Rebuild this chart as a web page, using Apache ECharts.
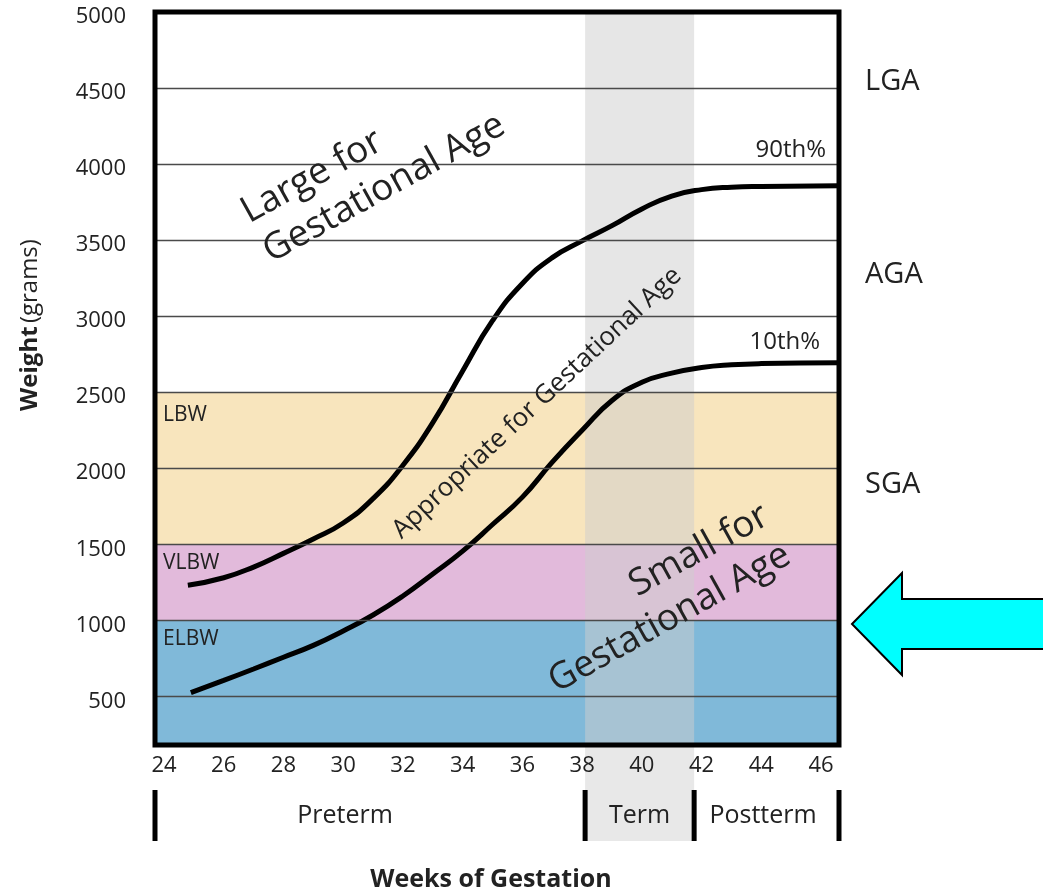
<!DOCTYPE html>
<html><head><meta charset="utf-8">
<script src="https://cdn.jsdelivr.net/npm/echarts@6/dist/echarts.min.js"></script>
<style>html,body{margin:0;padding:0;background:#fff}#c{width:1043px;height:896px}</style>
</head><body><div id="c"></div>
<script>
// ---- data ----
const weekTicks = [24,26,28,30,32,34,36,38,40,42,44,46];
const weightTicks = [500,1000,1500,2000,2500,3000,3500,4000,4500,5000];
const gridWeights = [500,1000,1500,2000,2500,3000,3500,4000,4500];
const weekRange = [23.7, 46.6];
const weightRange = [180, 5000];
const termWeeks = [38.1, 41.75];
const bandNames = ['ELBW','VLBW','LBW'];
const bandFrom = [180, 1000, 1500];
const bandTo = [1000, 1500, 2500];
const p90 = [[24.8,1230],[26,1280],[27,1350],[28,1440],[29,1535],[30,1640],[31,1800],[32,2020],[33,2300],[34,2640],[35,2970],[36,3215],[37,3385],[38,3495],[39,3595],[40,3705],[41,3790],[42,3832],[43,3848],[44,3853],[46.6,3858]];
const p10 = [[24.9,525],[26,605],[27,680],[28,757],[29,835],[30,930],[31,1035],[32,1160],[33,1305],[34,1455],[35,1630],[36,1810],[37,2040],[38,2250],[39,2445],[40,2565],[41,2625],[42,2662],[43,2680],[44,2688],[46.6,2693]];
const periodNames = ['Preterm','Term','Postterm'];
const sizeNames = ['LGA','AGA','SGA'];

// ---- styles ----
const FONT = 'Open Sans';
const bandColors = ['#80b9d9','#e2badb','#f8e5bd'];
const TXT = '#222';

const chart = echarts.init(document.getElementById('c'));
chart.setOption({
  animation: false,
  grid: {left:155, right:204, top:12, bottom:151, containLabel:false},
  xAxis: {type:'value', min:weekRange[0], max:weekRange[1],
    axisLine:{show:false}, axisTick:{show:false}, splitLine:{show:false},
    axisLabel:{customValues:weekTicks, formatter:v=>String(v), fontFamily:FONT, fontSize:22, color:TXT, margin:10}},
  yAxis: {type:'value', min:weightRange[0], max:weightRange[1],
    axisLine:{show:false}, axisTick:{show:false}, splitLine:{show:false},
    axisLabel:{customValues:weightTicks, formatter:v=>String(v), fontFamily:FONT, fontSize:22, color:TXT, margin:29,
      verticalAlign:'top', lineHeight:10}},
  series: [
    {type:'line', data:[], z:1, silent:true,
      markArea:{silent:true, data: bandNames.map((n,i)=>[{yAxis:bandFrom[i], itemStyle:{color:bandColors[i]}},{yAxis:bandTo[i]}])}},
    {type:'line', data:[], z:2, silent:true,
      markArea:{silent:true, itemStyle:{color:'rgba(205,205,205,0.5)'}, data:[[{xAxis:termWeeks[0]},{xAxis:termWeeks[1]}]]}},
    {type:'line', data:[], z:3, silent:true,
      markLine:{silent:true, symbol:'none', label:{show:false},
        lineStyle:{color:'#4a4a4a', width:1.3, type:'solid'},
        data: gridWeights.map(w=>({yAxis:w}))}},
    {type:'line', name:'90th%', data:p90, smooth:0.5, showSymbol:false, z:4,
      lineStyle:{color:'#000', width:5}},
    {type:'line', name:'10th%', data:p10, smooth:0.5, showSymbol:false, z:4,
      lineStyle:{color:'#000', width:5}}
  ]
});

const px = (x,y)=>chart.convertToPixel({gridIndex:0},[x,y]);
const tl = px(weekRange[0], weightRange[1]);
const br = px(weekRange[1], weightRange[0]);
const tA = px(termWeeks[0], weightRange[0]);
const tB = px(termWeeks[1], weightRange[0]);
const rowTop = br[1] + 45, rowBot = br[1] + 96;

const txt = (t, x, y, o={}) => ({type:'text', x, y, z:50, rotation:o.rot||0,
  style:{text:t, fontFamily:FONT, fontSize:o.size||22, fill:TXT, fontWeight:o.bold?'bold':'normal',
    align:o.align||'left', verticalAlign:'middle', lineHeight:o.lh}});

const g = [];
// term band below plot
g.push({type:'rect', z:0, shape:{x:tA[0], y:br[1], width:tB[0]-tA[0], height:rowBot-br[1]}, style:{fill:'#e8e8e8'}});
// frame
g.push({type:'rect', z:60, shape:{x:tl[0], y:tl[1], width:br[0]-tl[0], height:br[1]-tl[1]}, style:{fill:null, stroke:'#000', lineWidth:5}});
// period bars
[weekRange[0], termWeeks[0], termWeeks[1], weekRange[1]].forEach(w=>{
  const p = px(w, weightRange[0]);
  g.push({type:'rect', z:60, shape:{x:p[0]-2.5, y:rowTop, width:5, height:rowBot-rowTop}, style:{fill:'#000'}});
});
// period labels
g.push(txt(periodNames[0], 345, 816, {size:25, align:'center'}));
g.push(txt(periodNames[1], (tA[0]+tB[0])/2, 816, {size:25, align:'center'}));
g.push(txt(periodNames[2], 763, 816, {size:25, align:'center'}));
// axis titles
g.push(txt('Weeks of Gestation', 491, 880, {size:25, bold:true, align:'center'}));
g.push({type:'text', x:30, y:325, rotation:Math.PI/2, z:50,
  style:{text:'{b|Weight} {n|(grams)}', align:'center', verticalAlign:'middle',
    rich:{b:{fontFamily:FONT, fontSize:24, fontWeight:'bold', fill:TXT}, n:{fontFamily:FONT, fontSize:24, fill:TXT}}}});
// band labels
g.push(txt(bandNames[2], 163, 415, {size:21}));
g.push(txt(bandNames[1], 163, 563, {size:21}));
g.push(txt(bandNames[0], 163, 639, {size:21}));
// size labels at right
g.push(txt(sizeNames[0], 865, 82, {size:29}));
g.push(txt(sizeNames[1], 865, 275, {size:29}));
g.push(txt(sizeNames[2], 865, 485, {size:29}));
// percentile labels
g.push(txt('90th%', 826, 150, {size:24, align:'right'}));
g.push(txt('10th%', 820, 342, {size:24, align:'right'}));
// region annotations
const r29 = 29*Math.PI/180;
g.push(txt('Large for\nGestational Age', 255, 234, {size:37, rot:r29, lh:45}));
g.push(txt('Small for\nGestational Age', 777, 533, {size:37, rot:r29, lh:45, align:'right'}));
g.push(txt('Appropriate for Gestational Age', 537, 403, {size:26, rot:43*Math.PI/180, align:'center'}));
// arrow
g.push({type:'polygon', z:60, shape:{points:[[852,624],[902,573],[902,599],[1050,599],[1050,649],[902,649],[902,675]]},
  style:{fill:'#00ffff', stroke:'#000', lineWidth:2}});
chart.setOption({graphic:g});
</script></body></html>
